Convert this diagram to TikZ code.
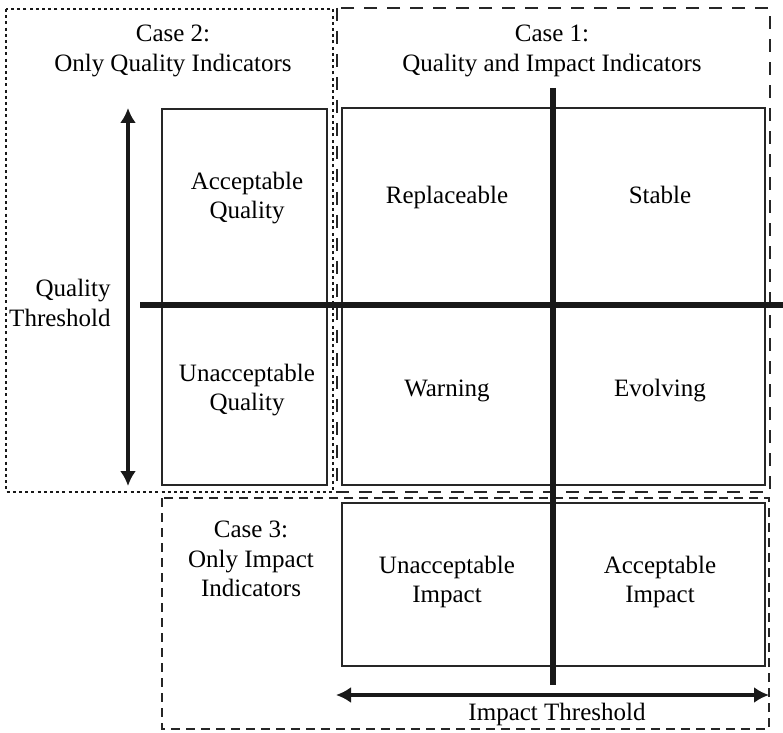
\documentclass[tikz,border=0pt]{standalone}
\usepackage{fontspec}
\setmainfont{Liberation Serif}
\usetikzlibrary{positioning}
\usetikzlibrary{arrows.meta}
\usetikzlibrary{calc}

\begin{document}
\begin{tikzpicture}[
    x=0.5pt, y=-0.5pt,
    txt/.style={align=center, inner sep=0pt, font=\fontsize{12.5}{14.8}\selectfont},
    one/.style={txt, text height=9pt, text depth=3pt},
    box/.style={draw=black!85, line width=0.8pt},
    bar/.style={draw=black!90, line width=2.6pt},
    dbl/.style={draw=black!90, line width=2pt, {Latex[length=7.5pt,width=8pt]}-{Latex[length=7.5pt,width=8pt]}},
    casetwo/.style={draw=black!90, line width=0.9pt, dash pattern=on 1.5pt off 1.6pt},
    caseone/.style={draw=black!85, line width=0.9pt, dash pattern=on 6.5pt off 5pt},
    casethree/.style={draw=black!85, line width=0.9pt, dash pattern=on 4.5pt off 3pt}
]
    \useasboundingbox (0,0) rectangle (783,733);

    % Case 2 area
    \coordinate (A2) at (6,9);
    \draw[casetwo] (A2) rectangle ($(A2)+(327,483)$);
    \node[txt] (T2) at ($(A2)+(167,42)$) {Case 2:\\Only Quality Indicators};

    % Case 1 area
    \coordinate (A1) at (337,8);
    \draw[caseone] (A1) rectangle ($(A1)+(433,484)$);
    \node[txt] (T1) at ($(A1)+(215,43)$) {Case 1:\\Quality and Impact Indicators};

    % Case 3 area
    \coordinate (A3) at (162,498);
    \draw[casethree] (A3) rectangle ($(A3)+(607,231)$);
    \node[txt] (T3) at ($(A3)+(89,61)$) {Case 3:\\Only Impact\\Indicators};

    % Quality column
    \coordinate (Q) at (162,109);
    \draw[box] (Q) rectangle ($(Q)+(165,376)$);
    \node[txt] (QA) at ($(Q)+(85,89)$) {Acceptable\\Quality};
    \node[txt] (QU) at ($(Q)+(85,281)$) {Unacceptable\\Quality};

    % Quadrants
    \coordinate (B) at (342,108);
    \draw[box] (B) rectangle ($(B)+(423,377)$);
    \node[one] (R1) at ($(B)+(105,90)$) {Replaceable};
    \node[one] (S1) at ($(B)+(318,90)$) {Stable};
    \node[one] (W1) at ($(B)+(105,282)$) {Warning};
    \node[one] (E1) at ($(B)+(318,282)$) {Evolving};

    % Impact row
    \coordinate (I) at (342,503);
    \draw[box] (I) rectangle ($(I)+(423,163)$);
    \node[txt] (UI) at ($(I)+(105,79)$) {Unacceptable\\Impact};
    \node[txt] (AI) at ($(I)+(318,79)$) {Acceptable\\Impact};

    % Thresholds
    \coordinate (HL) at (140,305);
    \coordinate (HR) at (783,305);
    \draw[bar] (HL) -- (HR);
    \coordinate (VT) at (553,88);
    \coordinate (VB) at (553,685);
    \draw[bar] (VT) -- (VB);

    \coordinate (QT) at (128,108);
    \coordinate (QB) at (128,486);
    \draw[dbl] (QT) -- (QB);
    \node[txt, align=right, anchor=east] (QL) at (111,303) {Quality\\Threshold};

    \coordinate (IL) at (336,695);
    \coordinate (IR) at (769,695);
    \draw[dbl] (IL) -- (IR);
    \node[one] (IL1) at (557,714) {Impact Threshold};
\end{tikzpicture}
\end{document}
